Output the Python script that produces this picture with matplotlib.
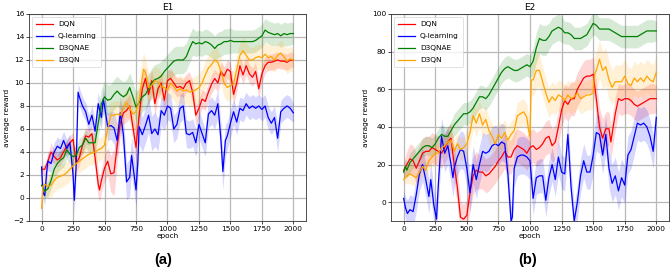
import numpy as np
import matplotlib
matplotlib.use("Agg")
import matplotlib.pyplot as plt

# ---------------- data: (epoch, smoothed reward, raw spread) ----------------
e1_dqn = [(0,2.5,0.3),(25,2.5,0.5),(50,3.2,0.6),(75,4.0,0.8),(100,3.6,0.6),(125,3.3,0.6),(150,3.5,0.6),
          (175,4.0,0.6),(200,4.5,0.6),(225,4.8,0.6),(250,5.1,0.6),(275,3.0,0.8),(300,3.5,0.7),(325,4.6,0.7),
          (350,5.4,0.7),(375,5.3,0.7),(400,5.6,0.7),(425,3.5,1.2),(450,1.2,1.2),(460,0.7,1.0),(475,1.5,1.0),
          (500,2.6,1.2),(525,3.2,1.2),(550,2.1,1.6),(575,2.2,2.0),(600,4.5,1.6),(625,6.5,1.2),(650,7.4,1.0),
          (675,7.6,1.0),(700,8.0,1.0),(725,6.2,1.2),(750,4.4,1.5),(775,7.2,1.4),(800,9.5,1.2),(825,10.4,1.0),
          (850,9.0,1.0),(875,10.2,1.0),(900,8.2,1.0),(925,9.5,0.9),(950,10.0,0.9),(975,8.5,0.9),(1000,10.2,0.9),
          (1025,10.4,0.8),(1050,10.0,0.8),(1075,9.6,0.8),(1100,9.7,0.8),(1125,9.5,0.8),(1150,10.0,0.8),
          (1175,10.2,0.8),(1200,9.2,0.9),(1225,7.2,0.9),(1250,7.8,0.8),(1275,8.6,0.8),(1300,8.4,0.8),
          (1325,9.2,0.8),(1350,9.9,0.8),(1375,10.4,0.8),(1400,10.0,0.8),(1425,11.0,0.8),(1450,10.6,0.8),
          (1475,11.2,0.8),(1500,11.0,0.8),(1525,9.0,0.9),(1550,10.0,0.8),(1575,11.5,0.8),(1600,10.7,0.8),
          (1625,11.5,0.8),(1650,10.8,0.8),(1675,10.5,0.8),(1700,11.0,0.8),(1725,9.5,0.8),(1750,10.8,0.8),
          (1775,11.5,0.7),(1800,11.8,0.7),(1825,11.8,0.7),(1850,11.9,0.7),(1875,12.0,0.7),(1900,11.9,0.7),
          (1925,11.9,0.7),(1950,11.8,0.7),(1975,12.0,0.7),(2000,12.0,0.6)]

e1_qlearn = [(0,2.7,0.3),(10,0.5,0.6),(25,0.2,0.8),(40,2.2,0.8),(50,3.2,0.8),(75,3.0,0.8),(100,4.0,0.8),
             (125,4.5,0.8),(150,4.3,0.8),(175,5.0,0.8),(200,4.3,0.8),(225,4.8,0.8),(250,2.0,1.0),(260,-0.2,1.2),
             (275,3.0,1.0),(290,9.2,0.8),(300,8.8,0.8),(325,8.0,0.8),(350,7.5,0.8),(375,6.4,0.8),(400,7.2,0.8),
             (425,5.8,1.0),(450,8.2,1.0),(475,7.0,1.0),(490,8.6,1.0),(500,8.0,1.0),(525,6.2,1.2),(550,6.3,1.2),
             (575,6.1,1.4),(600,5.0,1.4),(625,7.4,1.5),(650,5.5,1.6),(675,1.4,1.6),(700,1.8,1.6),(715,3.7,1.6),
             (735,2.0,1.6),(750,0.7,1.5),(765,3.2,1.6),(775,6.2,1.5),(800,5.5,1.5),(825,6.3,1.5),(850,7.2,1.5),
             (875,5.6,1.5),(900,6.0,1.5),(925,5.5,1.4),(950,7.6,1.3),(975,7.2,1.3),(1000,8.0,1.2),(1025,7.8,1.2),
             (1050,6.0,1.2),(1075,6.4,1.2),(1100,7.8,1.2),(1125,8.0,1.2),(1150,5.6,1.2),(1175,5.5,1.2),
             (1200,5.7,1.2),(1225,4.8,1.2),(1250,6.4,1.2),(1275,5.6,1.2),(1300,4.8,1.2),(1325,7.3,1.2),
             (1350,7.6,1.2),(1375,7.2,1.2),(1400,8.2,1.2),(1425,5.0,1.5),(1440,2.3,1.6),(1460,5.0,1.4),
             (1475,5.4,1.2),(1500,6.5,1.2),(1525,7.5,1.1),(1550,6.6,1.1),(1575,7.8,1.0),(1600,7.6,1.0),
             (1625,8.2,1.0),(1650,7.8,1.0),(1675,8.0,1.0),(1700,7.8,1.0),(1725,8.0,1.0),(1750,7.7,1.0),
             (1775,8.0,1.0),(1800,7.0,1.0),(1825,6.5,1.0),(1850,7.0,1.0),(1875,5.2,1.2),(1900,7.5,1.0),
             (1925,7.8,1.0),(1950,8.0,1.0),(1975,7.8,1.0),(2000,7.4,0.8)]

e1_d3qnae = [(0,1.1,0.4),(25,0.6,0.6),(50,0.8,0.7),(75,1.5,0.7),(100,2.5,0.8),(125,3.0,0.8),(150,3.3,0.8),
             (175,3.5,0.8),(200,4.2,0.8),(225,3.8,0.8),(250,3.6,0.8),(275,3.7,0.8),(300,4.4,0.8),(325,4.6,0.8),
             (350,5.2,0.8),(375,4.8,0.8),(400,4.8,0.8),(425,4.8,0.9),(450,6.5,1.2),(475,8.2,1.3),(500,8.8,1.4),
             (525,8.5,1.3),(550,8.6,1.3),(575,9.0,1.3),(600,9.3,1.3),(625,9.0,1.3),(650,8.8,1.3),(675,9.0,1.3),
             (700,9.6,1.3),(725,8.8,1.3),(750,7.9,1.3),(775,8.3,1.3),(800,8.8,1.3),(825,9.0,1.3),(850,9.5,1.3),
             (875,10.0,1.3),(900,10.3,1.3),(925,10.4,1.3),(950,10.6,1.3),(975,11.0,1.2),(1000,11.3,1.2),
             (1025,11.6,1.2),(1050,11.9,1.2),(1075,12.0,1.2),(1100,12.0,1.2),(1125,12.0,1.2),(1150,12.3,1.2),
             (1175,13.0,1.2),(1200,13.6,1.2),(1225,13.4,1.1),(1250,13.5,1.1),(1275,13.4,1.1),(1300,13.6,1.1),
             (1325,13.5,1.1),(1350,13.3,1.1),(1375,13.0,1.1),(1400,13.3,1.1),(1425,13.4,1.1),(1450,13.6,1.1),
             (1475,13.6,1.1),(1500,13.7,1.1),(1525,13.6,1.0),(1550,13.6,1.0),(1575,13.6,1.0),(1600,13.6,1.0),
             (1625,13.6,1.0),(1650,13.6,1.0),(1675,13.6,1.0),(1700,13.7,1.0),(1725,13.9,1.0),(1750,14.1,1.0),
             (1775,14.6,1.0),(1800,14.4,1.0),(1825,14.3,1.0),(1850,14.2,1.0),(1875,14.3,1.0),(1900,14.1,1.0),
             (1925,14.3,1.0),(1950,14.2,1.0),(1975,14.3,1.0),(2000,14.3,0.9)]

e1_d3qn = [(0,-0.9,0.3),(10,1.0,0.8),(25,1.2,1.0),(50,1.0,1.0),(75,1.1,1.0),(100,1.5,1.0),(125,1.8,1.0),
           (150,1.9,1.0),(175,2.0,1.0),(200,2.2,1.0),(225,2.5,1.0),(250,2.8,1.0),(275,3.0,1.0),(300,3.2,1.0),
           (325,3.4,1.0),(350,3.6,1.0),(375,3.8,1.0),(400,3.9,1.0),(425,4.0,1.0),(450,4.2,1.0),(475,4.3,1.0),
           (500,4.6,1.1),(525,6.0,1.2),(550,7.2,1.2),(575,7.2,1.2),(600,7.3,1.2),(625,7.2,1.2),(650,7.8,1.2),
           (675,8.3,1.2),(700,7.8,1.2),(725,7.3,1.3),(750,7.5,1.5),(775,8.5,2.0),(800,10.5,1.6),(810,11.2,1.4),
           (825,10.9,1.3),(850,9.6,1.2),(875,9.8,1.2),(900,10.2,1.2),(925,10.1,1.2),(950,9.7,1.2),(975,9.6,1.2),
           (1000,9.4,1.2),(1025,10.0,1.2),(1050,9.7,1.2),(1075,9.3,1.2),(1100,9.5,1.2),(1125,9.3,1.2),
           (1150,9.4,1.2),(1175,9.2,1.2),(1200,9.3,1.2),(1225,9.4,1.2),(1250,9.6,1.2),(1275,10.0,1.2),
           (1300,10.7,1.2),(1325,11.3,1.2),(1350,11.6,1.2),(1375,12.0,1.2),(1400,11.8,1.2),(1425,11.0,1.2),
           (1450,10.0,1.2),(1475,9.6,1.2),(1500,9.8,1.2),(1525,9.9,1.2),(1550,11.2,1.2),(1575,12.4,1.2),
           (1600,12.8,1.2),(1625,12.4,1.1),(1650,12.0,1.1),(1675,12.0,1.1),(1700,12.2,1.1),(1725,12.3,1.1),
           (1750,12.2,1.1),(1775,12.5,1.1),(1800,12.2,1.1),(1825,12.3,1.1),(1850,12.0,1.1),(1875,12.4,1.1),
           (1900,12.6,1.1),(1925,12.3,1.1),(1950,11.9,1.1),(1975,12.1,1.1),(2000,12.0,1.0)]

e2_dqn = [(0,17,4),(25,20,7),(50,23,8),(75,22,8),(100,18,8),(125,22,8),(150,26,8),(175,27,8),(200,27,8),
          (225,29,8),(250,28,8),(275,27,8),(300,26,8),(325,29,8),(350,32,8),(375,34,8),(400,20,10),(425,8,10),
          (450,-8,8),(475,-9,8),(500,-7,8),(525,5,10),(550,14,10),(575,17,10),(600,16,9),(625,16,9),(650,14,9),
          (675,15,9),(700,17,9),(725,19,9),(750,22,9),(775,24,9),(800,27,9),(825,24,9),(850,24,9),(875,28,9),
          (900,30,9),(925,29,9),(950,28,9),(975,26,9),(1000,29,9),(1025,30,9),(1050,28,9),(1075,29,9),
          (1100,31,9),(1125,34,9),(1150,35,9),(1175,30,9),(1200,32,9),(1225,40,9),(1250,49,9),(1275,54,9),
          (1300,52,9),(1325,55,9),(1350,55,9),(1375,60,9),(1400,63,9),(1425,66,9),(1450,67,9),(1475,67,9),
          (1500,68,9),(1525,55,10),(1550,40,10),(1575,34,10),(1600,39,9),(1625,39,9),(1640,32,9),(1675,47,9),
          (1700,55,8),(1725,54,8),(1750,55,8),(1775,55,8),(1800,54,8),(1825,52,8),(1850,51,8),(1875,52,8),
          (1900,53,8),(1925,54,8),(1950,55,8),(1975,55,8),(2000,55,7)]

e2_qlearn = [(0,2,4),(15,-3,6),(30,-6,7),(50,-4,8),(75,-5,8),(100,4,9),(125,15,9),(150,20,9),(175,12,9),
             (200,3,9),(215,12,9),(240,-2,9),(260,-9,9),(275,10,10),(300,35,10),(325,26,10),(350,30,10),
             (375,20,10),(390,13,10),(400,18,10),(425,24,10),(450,28,10),(475,27,10),(500,18,10),(525,5,10),
             (550,20,10),(575,12,10),(600,20,10),(625,27,10),(650,26,10),(675,27,10),(700,30,10),(725,31,10),
             (750,30,10),(775,32,10),(800,31,10),(825,15,10),(850,-10,8),(860,-8,8),(875,18,10),(900,24,10),
             (925,25,10),(950,25,10),(975,24,10),(1000,22,10),(1025,2,9),(1050,13,9),(1075,14,9),(1100,14,9),
             (1125,1,9),(1150,13,9),(1175,20,9),(1200,12,9),(1225,24,9),(1250,16,9),(1275,15,9),(1300,36,9),
             (1325,8,9),(1350,-10,8),(1375,0,9),(1400,14,9),(1425,22,9),(1450,16,9),(1475,16,9),(1500,25,10),
             (1525,37,10),(1550,36,10),(1575,25,10),(1600,36,10),(1625,18,10),(1650,10,10),(1675,14,10),
             (1700,6,10),(1725,13,10),(1750,9,10),(1775,25,10),(1800,28,10),(1825,35,10),(1850,42,9),
             (1875,41,9),(1900,42,9),(1925,40,9),(1950,35,9),(1975,27,9),(2000,45,8)]

e2_d3qnae = [(0,16,3),(15,19,4),(25,17,4),(50,21,5),(75,23,5),(100,25,5),(125,27,5),(150,29,5),(175,30,5),
             (200,30,5),(225,29,5),(250,31,5),(275,34,5),(300,36,5),(325,35,5),(350,35,5),(375,38,5),(400,41,6),
             (425,43,6),(450,45,6),(475,47,6),(500,47,6),(525,48,6),(550,50,6),(575,53,6),(600,56,6),(625,56,6),
             (650,55,6),(675,57,6),(700,60,6),(725,63,6),(750,66,6),(775,69,6),(800,71,6),(825,72,6),(850,71,6),
             (875,70,6),(900,70,6),(925,71,6),(950,72,6),(975,73,6),(1000,72,6),(1025,75,7),(1050,82,8),
             (1075,87,8),(1100,86,8),(1125,86,8),(1150,88,7),(1175,91,7),(1200,92,7),(1225,93,7),(1250,92,7),
             (1275,90,6),(1300,90,6),(1325,89,6),(1350,87,6),(1375,87,6),(1400,87,6),(1425,88,6),(1450,89,6),
             (1475,92,6),(1500,95,6),(1525,94,6),(1550,92,6),(1575,92,6),(1600,92,6),(1625,92,6),(1650,91,6),
             (1675,90,6),(1700,89,6),(1725,88,6),(1750,88,6),(1775,88,6),(1800,88,6),(1825,88,6),(1850,88,6),
             (1875,89,6),(1900,90,6),(1925,91,6),(1950,91,6),(1975,91,6),(2000,91,5)]

e2_d3qn = [(0,12,3),(25,14,4),(50,15,5),(75,14,5),(100,13,5),(125,16,5),(150,19,5),(175,17,5),(200,22,5),
           (225,24,5),(250,26,5),(275,26,5),(300,29,5),(325,30,5),(350,32,5),(375,33,5),(390,30,6),(400,27,6),
           (425,31,6),(450,28,6),(475,29,6),(500,31,7),(525,37,7),(550,46,7),(575,42,7),(600,47,7),(625,41,7),
           (650,44,7),(675,38,7),(700,35,7),(725,31,7),(750,36,7),(775,34,7),(800,37,7),(825,33,7),(850,36,7),
           (875,38,7),(900,46,7),(925,47,7),(950,48,7),(975,45,7),(990,38,7),(1000,35,7),(1010,65,8),
           (1025,65,9),(1050,70,9),(1075,70,9),(1100,64,8),(1125,58,8),(1150,53,8),(1175,56,8),(1200,54,8),
           (1225,57,8),(1250,56,8),(1275,54,8),(1300,57,8),(1325,55,8),(1350,56,8),(1375,58,8),(1400,55,8),
           (1425,56,8),(1450,57,8),(1475,57,8),(1500,58,8),(1510,68,9),(1525,70,10),(1550,76,10),(1575,70,10),
           (1600,72,10),(1625,65,10),(1650,61,9),(1675,64,9),(1700,64,9),(1725,64,9),(1750,67,9),(1775,63,9),
           (1800,62,9),(1825,66,9),(1850,64,9),(1875,66,9),(1900,64,9),(1925,67,9),(1950,65,9),(1975,64,9),
           (2000,69,9)]

series_names = ["DQN", "Q-learning", "D3QNAE", "D3QN"]
series_colors = ["red", "blue", "green", "orange"]
panel_titles = ["E1", "E2"]
panel_tags = ["(a)", "(b)"]
panel_series = [[e1_dqn, e1_qlearn, e1_d3qnae, e1_d3qn],
                [e2_dqn, e2_qlearn, e2_d3qnae, e2_d3qn]]
panel_ylim = [(-2, 16), (-10, 100)]
panel_yticks = [list(range(-2, 17, 2)), list(range(0, 101, 20))]
x_ticks = [0, 250, 500, 750, 1000, 1250, 1500, 1750, 2000]

# ---------------- figure ----------------
plt.rcParams['font.family'] = ['DejaVu Sans']
fig = plt.figure(figsize=(6.71, 2.77), dpi=100)
axes_rects = [[0.0432, 0.2022, 0.4128, 0.7473], [0.5827, 0.2022, 0.4143, 0.7473]]
tag_x = [0.243, 0.786]

for k in range(2):
    ax = fig.add_axes(axes_rects[k])
    for data, name, col in zip(panel_series[k], series_names, series_colors):
        ep = np.array([d[0] for d in data], dtype=float)
        val = np.array([d[1] for d in data], dtype=float)
        spr = np.array([d[2] for d in data], dtype=float)
        ax.fill_between(ep, val - spr, val + spr, color=col, alpha=0.16, linewidth=0)
        ax.plot(ep, val, color=col, lw=0.9, label=name)
    ax.set_xlim(-100, 2100)
    ax.set_ylim(*panel_ylim[k])
    ax.set_xticks(x_ticks)
    ax.set_yticks(panel_yticks[k])
    ax.grid(True, color="#b8b8b8", lw=0.9)
    ax.set_axisbelow(True)
    ax.tick_params(labelsize=5.3, length=2, width=0.5, pad=1.5)
    for s in ax.spines.values():
        s.set_linewidth(0.6)
        s.set_color("#333333")
    ax.set_title(panel_titles[k], fontsize=6.5, pad=3)
    ax.set_xlabel("epoch", fontsize=5.3, labelpad=1)
    ax.set_ylabel("average reward", fontsize=5.3, labelpad=2)
    leg = ax.legend(loc="upper left", fontsize=5.3, handlelength=2.3, handletextpad=0.7,
                    borderpad=0.55, labelspacing=0.8, framealpha=0.8, edgecolor="#cccccc",
                    fancybox=True, borderaxespad=0.4)
    leg.get_frame().set_linewidth(0.5)
    fig.text(tag_x[k], 0.035, panel_tags[k], fontsize=10.5, fontweight="bold",
             family=["Liberation Sans", "DejaVu Sans"], ha="center", va="bottom")

fig.savefig("out.png", dpi=100)
